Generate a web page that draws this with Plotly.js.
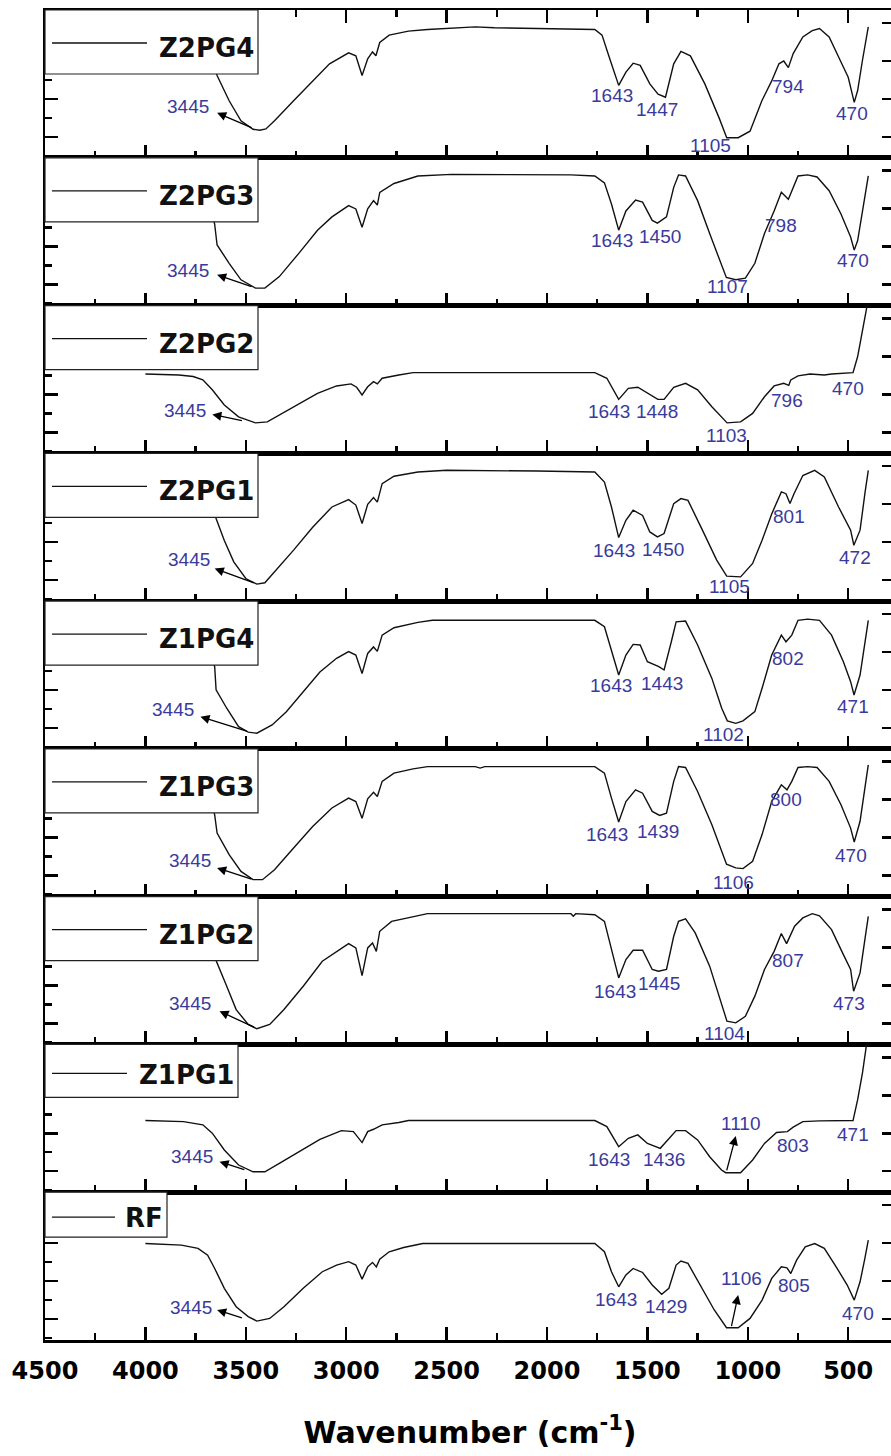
<!DOCTYPE html>
<html>
<head>
<meta charset="utf-8">
<script src="https://cdn.plot.ly/plotly-3.0.1.min.js"></script>
<style>
  html, body { margin: 0; padding: 0; overflow: hidden; background: #ffffff; }
  #chart { width: 896px; height: 1456px; }
</style>
</head>
<body>
<div id="chart"></div>
<script>
// FTIR spectra, stacked top to bottom
const sampleNames = ['Z2PG4', 'Z2PG3', 'Z2PG2', 'Z2PG1', 'Z1PG4', 'Z1PG3', 'Z1PG2', 'Z1PG1', 'RF'];

// Wavenumber (cm-1) and transmittance (arbitrary units, 0-100 per panel)
const wnZ2PG4 = [3665,3643,3583,3524,3464,3430,3400,3357,3262,3167,3083,2988,2952,2921,2893,2869,2852,2833,2786,2690,2595,2357,2262,1762,1726,1690,1643,1607,1571,1536,1488,1447,1410,1369,1333,1286,1214,1143,1105,1048,989,930,881,845,821,798,774,726,679,643,595,536,500,470,453,429,400];
const tZ2PG4  = [64,55.7,38.6,25,19.3,18.6,19.5,25,38.6,52,63.6,71,69,55.7,67,71.6,69,78,83,85.7,86.8,88.6,88,86.8,83,68,49,58,64,62.5,50,43,41,63.6,72,69,50,27,13.6,13.6,18,38.6,52,63.6,65.5,61,70.5,81.8,86,87.5,81.8,64.8,54.5,37.5,45.5,66,88.6];

const wnZ2PG3 = [3670,3655,3643,3583,3524,3452,3405,3333,3238,3143,3071,2988,2952,2921,2893,2864,2845,2833,2762,2643,2476,1881,1762,1714,1679,1643,1607,1559,1524,1476,1450,1405,1369,1345,1310,1250,1190,1130,1107,1060,1012,965,917,869,833,798,774,750,702,655,595,536,488,470,453,424,400];
const tZ2PG3  = [64,55,41,28.6,17.4,11.8,11.8,19.6,35,51,60,67.6,65.4,53,65.4,71,68,76.6,82.6,87.7,88.8,88.4,87.7,83,68.75,51,64,71.4,70,57.6,55.8,60,80,88.4,87.7,71,48.7,26.3,19,17.5,18.5,28.6,48.7,64,76.6,72,80,87.7,88.4,87,77.7,62,46.4,37.5,44,66.5,87.7];

const wnZ2PG2 = [4000,3833,3762,3714,3667,3607,3536,3452,3393,3321,3238,3143,3048,2976,2948,2921,2893,2864,2845,2821,2738,2667,1762,1702,1643,1595,1548,1500,1448,1417,1369,1310,1250,1179,1103,1036,976,917,869,821,796,786,750,690,619,583,476,453,429,410,395];
const tZ2PG2  = [53.7,53,52,49.7,43,32.7,24.7,20.6,21.3,27,33.3,40.6,45.6,47,44.7,39.5,45,48.5,47,50.8,53,54.6,54.6,50.8,36.5,44,44.7,40.6,36.5,36.5,44.7,47.4,43,31.5,20.6,21.3,27,38.3,45.6,47.4,46,49.7,52.4,53.7,53,53.7,54.6,65.5,83.7,98.4,108];

const wnZ2PG1 = [3670,3648,3607,3560,3500,3445,3405,3333,3262,3167,3071,2988,2952,2921,2893,2864,2845,2821,2762,2643,2500,2048,1881,1762,1714,1679,1643,1607,1571,1524,1488,1450,1417,1369,1333,1298,1226,1155,1105,1036,976,929,881,833,810,790,770,726,667,619,548,488,472,441,417,400];
const tZ2PG1  = [63,55.9,41,26.6,15.3,11.5,12.4,23.2,34.5,50,63.7,68.7,65,52.5,65.5,70,67,79.5,84.5,87.4,88.5,88,87.4,87.4,80.6,63.7,43,54.7,61.5,58,46.8,43.5,45.7,66,69.4,68.2,48,27.7,16.9,16.4,25.5,41.2,59,73.9,72.7,66,72.7,85,88.5,84,63.7,48,37.8,48,72.7,88.5];

const wnZ1PG4 = [3670,3655,3648,3595,3536,3488,3445,3369,3298,3226,3131,3048,2988,2952,2921,2893,2864,2845,2821,2762,2643,2571,2381,2357,2310,1905,1869,1762,1714,1679,1643,1607,1571,1536,1500,1443,1417,1381,1357,1310,1250,1179,1130,1102,1060,1024,965,929,881,833,810,781,750,702,643,583,524,488,471,441,417,400];
const tZ1PG4  = [63,55.6,40,27.5,15,11.3,10.6,16.2,25.2,36.5,52,61.3,65.8,63.5,51,64.6,69,66,77,82,85.6,87,87,86.5,87,87,86.5,87,82.7,65.8,50,63.5,70.7,70.3,59,55.6,53.4,72.5,86,86.5,70.3,47.7,27.5,19,17.3,19,25.2,41,63.5,77,72.5,77,87,87.8,87,77,59,45.5,36.5,50,70.3,87];

const wnZ1PG3 = [3670,3655,3643,3583,3524,3464,3417,3357,3262,3167,3071,2988,2952,2921,2893,2864,2845,2821,2762,2667,2595,2357,2333,2310,1762,1714,1679,1643,1607,1559,1524,1476,1439,1405,1369,1345,1310,1250,1179,1130,1106,1060,1024,976,929,881,833,805,781,750,702,655,595,536,488,470,441,417,400];
const tZ1PG3  = [63,55.4,43,28.4,17.1,11.5,11.5,18.2,32.9,47.5,60,66.7,64.4,53,66.2,70.7,67.8,78,83.6,86.5,88,88,87,88,88,83.6,66.7,50.5,64.4,72.3,70,57.7,55,56.5,78,88,87.4,71.2,48.6,30,22,19.5,19,23.9,42,64.4,75.7,72.3,78,87.4,88,87.4,78,62.2,46.4,37,51,73.4,89.2];

const wnZ1PG2 = [3670,3638,3595,3548,3488,3445,3381,3310,3214,3119,3048,2988,2952,2921,2893,2869,2850,2833,2774,2667,2595,1881,1869,1857,1762,1714,1679,1643,1607,1571,1524,1476,1445,1405,1369,1345,1310,1262,1190,1131,1104,1060,1012,965,917,869,833,807,767,726,679,643,583,524,488,473,441,417,400];
const tZ1PG2  = [64,54,39.4,23.6,13.5,10.6,13.5,23.6,39.4,56.3,63,68.2,65.3,46.6,65.3,68.7,63,76.6,83.3,86.7,88.5,88.5,86.7,88.5,87.8,83.3,64.2,45,57.4,63.7,63.7,50.7,49.5,50.7,73.2,83.3,85,75.5,53,28.2,15.8,14.6,19,32.7,50.7,63,75,68.2,80,85.6,88.5,87,77.7,60.8,50.7,36,48.4,71,86.7];

const wnZ1PG1 = [4000,3810,3714,3667,3607,3536,3464,3405,3333,3238,3131,3024,2964,2921,2893,2864,2845,2821,2738,2690,1762,1702,1643,1595,1548,1500,1436,1405,1357,1310,1250,1190,1131,1110,1036,976,917,857,803,774,726,643,595,476,453,429,410,395];
const tZ1PG1  = [48.5,47.8,45.6,40,28.6,18.4,13.8,13.8,19.5,27.4,35.8,41.7,41,33.6,41,42.6,44,45.6,47.2,48.5,48.5,44.4,30.8,36.5,38.8,33,29.7,34.2,41.7,41.7,35.4,24,15,13.2,13.2,21.8,33,40.4,41,44,47.8,48.3,48.3,48.5,62.6,80.7,98.9,108];

const wnRF = [4000,3821,3738,3690,3655,3607,3548,3488,3445,3381,3310,3214,3119,3048,2988,2952,2921,2893,2869,2850,2833,2786,2714,2619,1762,1714,1679,1643,1607,1571,1524,1476,1429,1393,1357,1333,1298,1238,1167,1106,1048,989,929,881,833,805,786,757,714,667,619,560,505,470,441,417,400];
const tRF  = [65.3,64.2,62,57.4,48.4,35,22.5,15.8,12.8,14.6,22.5,35,46.2,50.7,53,50.7,41.2,49.5,52.5,49.5,54.7,59.7,62.6,65.3,65.3,59.7,46.2,36,44,48.4,45.7,37.2,30.9,35,50.7,53.4,51.8,37.2,20.3,8.3,8.3,14.6,27,41.7,49.5,48.8,45,54,63,65.3,62,49.5,37.2,27,39.4,55.2,67.6];

// Band assignments: label text and where each label sits (wavenumber, transmittance)
const peakZ2PG4 = ['3445','1643','1447','1105','794','470'];
const peakWnZ2PG4 = [3790,1674,1452,1186,798,483];
const peakTZ2PG4  = [34.8,42,33,8.4,48,30];

const peakZ2PG3 = ['3445','1643','1450','1107','798','470'];
const peakWnZ2PG3 = [3786,1674,1436,1102,833,476];
const peakTZ2PG3  = [23.7,44.2,46.4,13,54,30.8];

const peakZ2PG2 = ['3445','1643','1448','1103','796','470'];
const peakWnZ2PG2 = [3805,1690,1452,1107,805,500];
const peakTZ2PG2  = [29,28.1,28.1,12.2,36,44];

const peakZ2PG1 = ['3445','1643','1450','1105','801','472'];
const peakWnZ2PG1 = [3781,1667,1424,1090,793,464];
const peakTZ2PG1  = [28.2,34.5,35,9.7,57.2,29.3];

const peakZ1PG4 = ['3445','1643','1443','1102','802','471'];
const peakWnZ1PG4 = [3862,1679,1429,1119,798,478];
const peakTZ1PG4  = [26.6,43.2,44.4,9.5,61.5,28.6];

const peakZ1PG3 = ['3445','1643','1439','1106','800','470'];
const peakWnZ1PG3 = [3779,1702,1448,1071,810,486];
const peakTZ1PG3  = [24.8,41.9,44.1,9.9,66,28];

const peakZ1PG2 = ['3445','1643','1445','1104','807','473'];
const peakWnZ1PG2 = [3779,1662,1440,1114,798,495];
const peakTZ1PG2  = [27.5,36,41,7.2,56.8,27.5];

const peakZ1PG1 = ['3445','1643','1436','1110','803','471'];
const peakWnZ1PG1 = [3769,1690,1417,1036,776,476];
const peakTZ1PG1  = [24.5,22,22,46.5,31.7,39.2];

const peakRF = ['3445','1643','1429','1106','805','470'];
const peakWnRF = [3771,1655,1405,1031,771,450];
const peakTRF  = [22.3,27.5,22.5,41.4,37,18];

// Pointer arrows: [head wavenumber, head T, tail wavenumber, tail T]
const arrowsZ2PG4 = [[3643,30.4,3464,20]];
const arrowsZ2PG3 = [[3643,20.8,3464,12.5]];
const arrowsZ2PG2 = [[3667,26.3,3512,22]];
const arrowsZ2PG1 = [[3655,22,3452,12]];
const arrowsZ1PG4 = [[3726,21.8,3488,11.7]];
const arrowsZ1PG3 = [[3643,19.4,3464,11.5]];
const arrowsZ1PG2 = [[3631,22.5,3452,11.3]];
const arrowsZ1PG1 = [[3631,20.6,3500,15],[1060,38,1107,13.8]];
const arrowsRF    = [[3643,20.3,3512,14.6],[1048,30.4,1083,8.3]];

const xTickValues = [4500, 4000, 3500, 3000, 2500, 2000, 1500, 1000, 500];

const spectra = [
  [wnZ2PG4, tZ2PG4, peakZ2PG4, peakWnZ2PG4, peakTZ2PG4, arrowsZ2PG4],
  [wnZ2PG3, tZ2PG3, peakZ2PG3, peakWnZ2PG3, peakTZ2PG3, arrowsZ2PG3],
  [wnZ2PG2, tZ2PG2, peakZ2PG2, peakWnZ2PG2, peakTZ2PG2, arrowsZ2PG2],
  [wnZ2PG1, tZ2PG1, peakZ2PG1, peakWnZ2PG1, peakTZ2PG1, arrowsZ2PG1],
  [wnZ1PG4, tZ1PG4, peakZ1PG4, peakWnZ1PG4, peakTZ1PG4, arrowsZ1PG4],
  [wnZ1PG3, tZ1PG3, peakZ1PG3, peakWnZ1PG3, peakTZ1PG3, arrowsZ1PG3],
  [wnZ1PG2, tZ1PG2, peakZ1PG2, peakWnZ1PG2, peakTZ1PG2, arrowsZ1PG2],
  [wnZ1PG1, tZ1PG1, peakZ1PG1, peakWnZ1PG1, peakTZ1PG1, arrowsZ1PG1],
  [wnRF, tRF, peakRF, peakWnRF, peakTRF, arrowsRF]
];

// ---- geometry and styling ----
const W = 896, H = 1456;
const M = { l: 45, r: 1, t: 10, b: 116 };
const plotW = W - M.l - M.r;
const nPanels = sampleNames.length;
const panelPx = (H - M.t - M.b) / nPanels;

// legend box sizes (pixels) for each panel
const boxRightPx  = [258, 258, 258, 258, 258, 258, 258, 238, 167];
const boxHeightPx = [64, 64, 64, 64, 64, 64, 64, 53, 45];
const sampleEndPx = [147, 147, 147, 147, 147, 147, 147, 127, 115];
const textLeftPx  = [157, 157, 157, 157, 157, 157, 157, 137, 123];
const lineYPx     = [33, 33, 33, 33, 33, 33, 33, 29, 25];
const textYPx     = [38, 38, 38, 38, 38, 38, 38, 31, 26];

const fx = px => (px - M.l) / plotW;
const fy = px => 1 - px / panelPx;

const black = '#000000';
const labelBlue = '#3a3a9c';
const yTick0 = 14.2, yDtick = 25.7;
const axisW = 2.5;

const traces = [];
const layout = {
  width: W, height: H,
  margin: M,
  paper_bgcolor: '#ffffff', plot_bgcolor: '#ffffff',
  showlegend: false,
  shapes: [], annotations: []
};

spectra.forEach((s, i) => {
  const [wn, t, peaks, peakWn, peakT, arrows] = s;
  const k = i + 1;
  const sfx = k === 1 ? '' : String(k);
  const xr = 'x' + sfx, yr = 'y' + sfx;
  const yRight = 'y' + (nPanels + k);
  const top = 1 - i / nPanels, bot = 1 - (i + 1) / nPanels;

  traces.push({
    x: wn, y: t, xaxis: xr, yaxis: yr, type: 'scatter', mode: 'lines',
    line: { color: '#111111', width: 1.4 }, hoverinfo: 'skip', showlegend: false
  });
  // empty trace so the right-hand tick axis has a subplot
  traces.push({ x: [], y: [], xaxis: xr, yaxis: yRight, type: 'scatter', mode: 'lines', showlegend: false, hoverinfo: 'skip' });

  const isBottom = i === nPanels - 1;
  const xa = {
    domain: [0, 1], anchor: yr, range: [4500, 267], autorange: false,
    tickmode: 'array', tickvals: xTickValues,
    ticks: 'inside', ticklen: 13, tickwidth: axisW, tickcolor: black,
    showline: true, linecolor: black, linewidth: axisW,
    mirror: i === 0 ? 'ticks' : true,
    showgrid: false, zeroline: false,
    showticklabels: isBottom,
    tickfont: { family: 'DejaVu Sans', size: 24, color: black, weight: 'bold' },
    ticklabelstandoff: 8,
    minor: { tick0: 250, dtick: 500, ticks: 'inside', ticklen: 7, tickwidth: axisW, tickcolor: black, showgrid: false }
  };
  if (isBottom) {
    xa.title = {
      text: 'Wavenumber (cm<sup>-1</sup>)',
      font: { family: 'DejaVu Sans', size: 30, color: black, weight: 'bold' },
      standoff: 38
    };
  }
  layout['xaxis' + sfx] = xa;
  layout['yaxis' + sfx] = {
    domain: [bot, top], anchor: xr, range: [0, 100], autorange: false,
    tick0: yTick0, dtick: yDtick,
    ticks: 'inside', ticklen: 13, tickwidth: axisW, tickcolor: black,
    showline: true, linecolor: black, linewidth: axisW, mirror: false,
    showgrid: false, zeroline: false, showticklabels: false,
    minor: { tick0: yTick0 - yDtick / 2, dtick: yDtick, ticks: 'inside', ticklen: 7, tickwidth: axisW, tickcolor: black, showgrid: false }
  };
  layout['yaxis' + (nPanels + k)] = {
    overlaying: yr, side: 'right', anchor: xr, range: [0, 100], autorange: false,
    tick0: yTick0, dtick: yDtick,
    ticks: 'inside', ticklen: 13, tickwidth: axisW, tickcolor: black,
    showline: true, linecolor: black, linewidth: axisW,
    showgrid: false, zeroline: false, showticklabels: false
  };

  // legend box
  layout.shapes.push({
    type: 'rect', xref: xr + ' domain', yref: yr + ' domain', layer: 'above',
    x0: 0, x1: fx(boxRightPx[i]), y0: fy(boxHeightPx[i]), y1: 1,
    fillcolor: '#ffffff', line: { color: '#222222', width: 1.2 }
  });
  layout.shapes.push({
    type: 'line', xref: xr + ' domain', yref: yr + ' domain', layer: 'above',
    x0: fx(52), x1: fx(sampleEndPx[i]), y0: fy(lineYPx[i]), y1: fy(lineYPx[i]),
    line: { color: '#111111', width: 1.3 }
  });
  layout.annotations.push({
    xref: xr + ' domain', yref: yr + ' domain', x: fx(textLeftPx[i]), y: fy(textYPx[i]),
    xanchor: 'left', yanchor: 'middle', showarrow: false, text: sampleNames[i],
    font: { family: 'DejaVu Sans', size: 26, color: '#111111', weight: 'bold' }
  });

  // band labels
  peaks.forEach((p, j) => {
    layout.annotations.push({
      xref: xr, yref: yr, x: peakWn[j], y: peakT[j], text: p, showarrow: false,
      xanchor: 'center', yanchor: 'middle',
      font: { family: 'Liberation Sans', size: 19, color: labelBlue }
    });
  });

  // pointer arrows
  arrows.forEach(a => {
    layout.annotations.push({
      xref: xr, yref: yr, axref: xr, ayref: yr,
      x: a[0], y: a[1], ax: a[2], ay: a[3], text: '',
      showarrow: true, arrowhead: 2, arrowsize: 1.4, arrowwidth: 1.3,
      arrowcolor: black, standoff: 0
    });
  });
});

Plotly.newPlot('chart', traces, layout, { staticPlot: true, displayModeBar: false });
</script>
</body>
</html>
